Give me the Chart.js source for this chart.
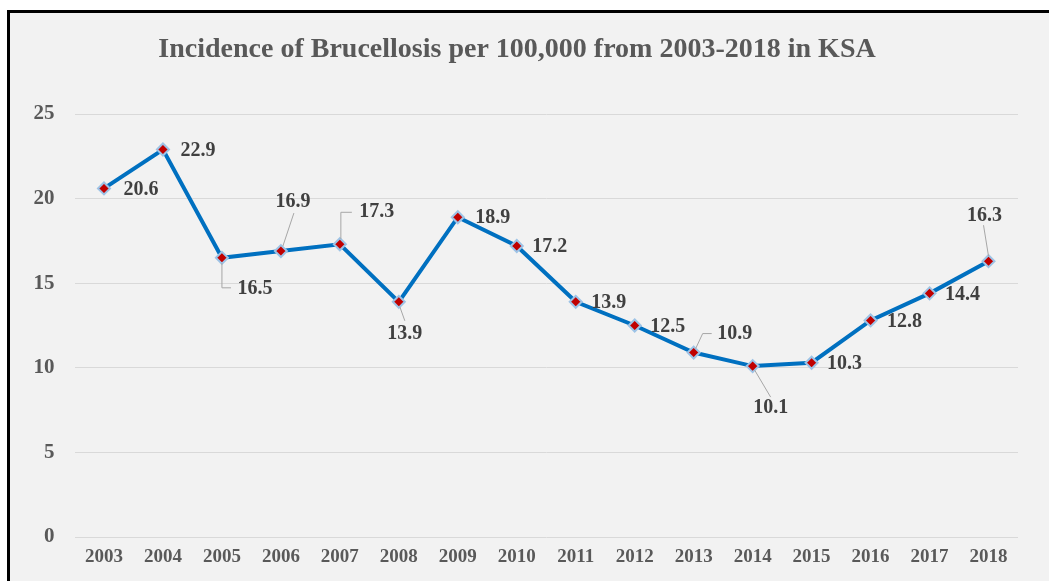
<!DOCTYPE html>
<html>
<head>
<meta charset="utf-8">
<script src="https://cdn.jsdelivr.net/npm/chart.js@4/dist/chart.umd.min.js"></script>
<style>
  html, body { margin: 0; padding: 0; background: #fff; }
  #frame {
    position: absolute; left: 7px; top: 10px; width: 1042px; height: 571px;
    border-left: 3px solid #000; border-top: 3px solid #000;
    background: #f2f2f2; box-sizing: border-box;
  }
  #wrap { position: absolute; left: 0; top: 0; width: 1049px; height: 581px; }
</style>
</head>
<body>
<div id="frame"></div>
<div id="wrap"><canvas id="chart" width="1049" height="581"></canvas></div>
<script>
const years = ["2003", "2004", "2005", "2006", "2007", "2008", "2009", "2010",
  "2011", "2012", "2013", "2014", "2015", "2016", "2017", "2018"];
const incidence = [20.6, 22.9, 16.5, 16.9, 17.3, 13.9, 18.9, 17.2,
  13.9, 12.5, 10.9, 10.1, 10.3, 12.8, 14.4, 16.3];
const yTicks = [0, 5, 10, 15, 20, 25];

// label placement (offset from the point) and leader lines, per point
const labelOffsets = [
  [37, 1], [35, 1], [33, 31], [12, -49], [37, -32], [6, 32], [35, 1], [33, 1],
  [33, 1], [33, 1], [41, -19], [18, 42], [33, 1], [34, 1], [33, 1], [-4, -45]
];
const leaders = [
  null, null, [[0, 5], [0, 30], [9, 30]], [[2, -5], [13, -38]], [[1, -5], [1, -32], [12, -32]],
  [[1, 5], [6, 19]], null, null, null, null, [[2, -4], [9, -19], [18, -19]],
  [[2, 4], [18, 31]], null, null, null, [[0, -5], [-5, -36]]
];

const pointLabels = {
  id: "pointLabels",
  afterDatasetsDraw(chart) {
    const ctx = chart.ctx;
    const meta = chart.getDatasetMeta(0);
    ctx.save();
    meta.data.forEach((pt, i) => {
      const lead = leaders[i];
      if (lead) {
        ctx.strokeStyle = "#a6a6a6";
        ctx.lineWidth = 1;
        ctx.beginPath();
        lead.forEach((p, j) => {
          if (j === 0) ctx.moveTo(pt.x + p[0], pt.y + p[1]);
          else ctx.lineTo(pt.x + p[0], pt.y + p[1]);
        });
        ctx.stroke();
      }
      ctx.fillStyle = "#404040";
      ctx.font = "bold 20px 'Liberation Serif'";
      ctx.textAlign = "center";
      ctx.textBaseline = "middle";
      ctx.fillText(incidence[i].toFixed(1), pt.x + labelOffsets[i][0], pt.y + labelOffsets[i][1]);
    });
    ctx.restore();
  }
};

new Chart(document.getElementById("chart"), {
  type: "line",
  data: {
    labels: years,
    datasets: [{
      data: incidence,
      borderColor: "#0070c0",
      borderWidth: 4,
      pointStyle: "rectRot",
      pointRadius: 6,
      pointBackgroundColor: "#c00000",
      pointBorderColor: "#9dc3e6",
      pointBorderWidth: 2,
      tension: 0
    }]
  },
  options: {
    responsive: false,
    animation: false,
    layout: { padding: { left: 16, right: 31, top: 20, bottom: 0 } },
    plugins: {
      legend: { display: false },
      tooltip: { enabled: false },
      title: {
        display: true,
        text: "Incidence of Brucellosis per 100,000 from 2003-2018 in KSA",
        color: "#595959",
        font: { family: "'Liberation Serif'", size: 28, weight: "bold", lineHeight: 1.2 },
        padding: { top: 13, bottom: 47.4 }
      }
    },
    scales: {
      x: {
        offset: true,
        grid: { display: false, drawTicks: false },
        border: { display: false },
        ticks: {
          color: "#595959",
          padding: 9,
          maxRotation: 0,
          font: { family: "'Liberation Serif'", size: 19, weight: "bold" }
        },
        afterFit(scale) { scale.height = 44; }
      },
      y: {
        min: 0,
        max: 25,
        afterBuildTicks(scale) { scale.ticks = yTicks.map(v => ({ value: v })); },
        grid: { color: "#d9d9d9", lineWidth: 1, drawTicks: false },
        border: { display: false },
        ticks: {
          color: "#595959",
          padding: 20,
          font: { family: "'Liberation Serif'", size: 21, weight: "bold" }
        },
        afterFit(scale) { scale.width = 58.5; }
      }
    }
  },
  plugins: [pointLabels]
});
</script>
</body>
</html>
